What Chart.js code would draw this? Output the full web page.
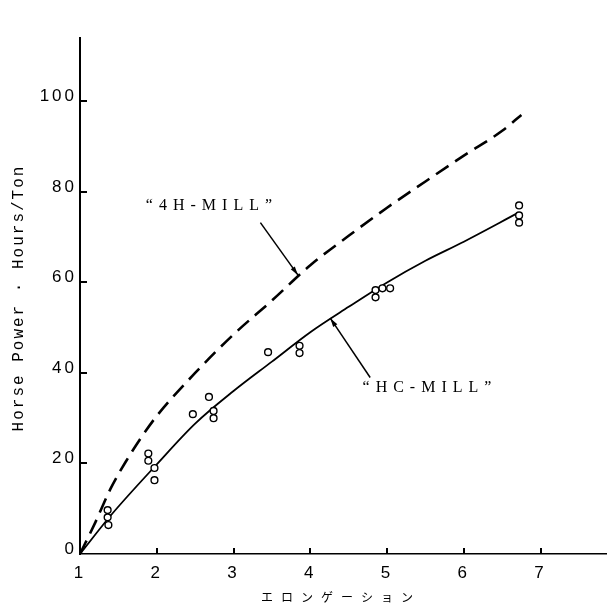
<!DOCTYPE html>
<html>
<head>
<meta charset="utf-8">
<script src="https://cdn.jsdelivr.net/npm/chart.js@4/dist/chart.umd.min.js"></script>
<style>
  html, body { margin: 0; padding: 0; background: #fff; }
  #wrap { width: 612px; height: 614px; position: relative; }
</style>
</head>
<body>
<div id="wrap"><canvas id="c"></canvas></div>
<script>
// Power consumption against elongation for two mill types.
const hcCurveX = [1, 1.4, 2, 2.5, 3, 3.5, 4, 4.5, 5, 5.5, 6, 6.7];
const hcCurveY = [0, 8.5, 19.8, 28.8, 36, 42.5, 49, 54.6, 60, 64.8, 69, 75.3];

const fourHiCurveX = [1, 1.2, 1.4, 1.6, 1.8, 2, 2.5, 3, 3.5, 4, 4.5, 5, 5.5, 6, 6.5, 6.75];
const fourHiCurveY = [0, 7, 14.5, 20.5, 25.8, 30.5, 40, 48.5, 56, 63.8, 70.3, 76.5, 82.3, 88, 93.5, 97];

// Measured HC mill points
const measuredX = [1.36, 1.36, 1.37, 1.89, 1.89, 1.97, 1.97, 2.47, 2.68, 2.74, 2.74, 3.45, 3.86, 3.86, 4.85, 4.85, 4.94, 5.04, 6.72, 6.72, 6.72];
const measuredY = [9.7, 8.1, 6.4, 22.2, 20.6, 19.0, 16.3, 30.9, 34.7, 31.6, 30.0, 44.6, 46.0, 44.4, 58.3, 56.7, 58.7, 58.7, 77.0, 74.8, 73.2];

const xTicks = [1, 2, 3, 4, 5, 6, 7];
const yTicks = [0, 20, 40, 60, 80, 100];

const yTitle = 'Horse Power · Hours/Ton';
const xTitle = 'エロンゲーション';
const fourHiLabel = '“4H-MILL”';
const hcLabel = '“HC-MILL”';

const toPoints = (xs, ys) => xs.map((v, i) => ({ x: v, y: ys[i] }));

// Callout text and leader arrows, placed in data units
const callouts = [
  { text: fourHiLabel, at: [2.68, 77.0], from: [3.35, 73.2], to: [3.84, 61.6] },
  { text: hcLabel, at: [5.52, 36.8], from: [4.78, 39.0], to: [4.26, 52.1] }
];

const decorations = {
  id: 'decorations',
  beforeDraw(chart) {
    chart.ctx.letterSpacing = '3px';
  },
  afterDraw(chart) {
    const { ctx, chartArea: area, scales: { x, y } } = chart;
    ctx.letterSpacing = '0px';
    ctx.save();
    ctx.strokeStyle = '#000';
    ctx.fillStyle = '#000';

    // inward tick marks
    ctx.lineWidth = 2;
    xTicks.forEach(v => {
      if (v === x.min) return;
      const px = Math.round(x.getPixelForValue(v));
      ctx.beginPath();
      ctx.moveTo(px, area.bottom);
      ctx.lineTo(px, area.bottom - 6);
      ctx.stroke();
    });
    yTicks.forEach(v => {
      if (v === 0) return;
      const py = Math.round(y.getPixelForValue(v));
      ctx.beginPath();
      ctx.moveTo(area.left, py);
      ctx.lineTo(area.left + 7, py);
      ctx.stroke();
    });

    // axis titles
    ctx.save();
    ctx.translate(19, 298);
    ctx.rotate(-Math.PI / 2);
    ctx.font = '16px "Liberation Mono"';
    ctx.letterSpacing = '2px';
    ctx.textAlign = 'center';
    ctx.textBaseline = 'middle';
    ctx.fillText(yTitle, 0, 0);
    ctx.restore();

    ctx.save();
    ctx.font = '12px "Noto Sans CJK JP"';
    ctx.letterSpacing = '8px';
    ctx.textAlign = 'center';
    ctx.textBaseline = 'middle';
    ctx.fillText(xTitle, 341, 597);
    ctx.restore();

    // callouts
    callouts.forEach(c => {
      const lx = x.getPixelForValue(c.at[0]), ly = y.getPixelForValue(c.at[1]);
      ctx.save();
      ctx.font = '16px "Liberation Serif"';
      ctx.letterSpacing = '6px';
      ctx.textAlign = 'center';
      ctx.textBaseline = 'middle';
      ctx.fillText(c.text, lx + 3, ly);
      ctx.restore();

      const x0 = x.getPixelForValue(c.from[0]), y0 = y.getPixelForValue(c.from[1]);
      const x1 = x.getPixelForValue(c.to[0]), y1 = y.getPixelForValue(c.to[1]);
      ctx.lineWidth = 1.5;
      ctx.beginPath();
      ctx.moveTo(x0, y0);
      ctx.lineTo(x1, y1);
      ctx.stroke();
      const ang = Math.atan2(y1 - y0, x1 - x0);
      const len = 9, half = 2.5;
      ctx.beginPath();
      ctx.moveTo(x1, y1);
      ctx.lineTo(x1 - len * Math.cos(ang) + half * Math.sin(ang), y1 - len * Math.sin(ang) - half * Math.cos(ang));
      ctx.lineTo(x1 - len * Math.cos(ang) - half * Math.sin(ang), y1 - len * Math.sin(ang) + half * Math.cos(ang));
      ctx.closePath();
      ctx.fill();
    });
    ctx.restore();
  }
};

new Chart(document.getElementById('c'), {
  type: 'scatter',
  data: {
    datasets: [
      {
        label: '4H-MILL',
        data: toPoints(fourHiCurveX, fourHiCurveY),
        showLine: true,
        borderColor: '#000',
        borderWidth: 2.6,
        borderDash: [15, 8],
        pointRadius: 0,
        cubicInterpolationMode: 'monotone',
        order: 3
      },
      {
        label: 'HC-MILL',
        data: toPoints(hcCurveX, hcCurveY),
        showLine: true,
        borderColor: '#000',
        borderWidth: 1.8,
        pointRadius: 0,
        cubicInterpolationMode: 'monotone',
        order: 2
      },
      {
        label: 'HC-MILL measured',
        data: toPoints(measuredX, measuredY),
        showLine: false,
        pointStyle: 'circle',
        pointRadius: 3.4,
        pointBorderWidth: 1.4,
        pointBorderColor: '#000',
        pointBackgroundColor: '#fff',
        order: 1
      }
    ]
  },
  options: {
    responsive: true,
    maintainAspectRatio: false,
    animation: false,
    events: [],
    layout: { padding: { top: 38, right: 0, bottom: 0, left: 0 } },
    plugins: {
      legend: { display: false },
      tooltip: { enabled: false },
      title: { display: false }
    },
    scales: {
      x: {
        type: 'linear',
        min: 1,
        max: 7.86,
        afterBuildTicks(scale) { scale.ticks = xTicks.map(v => ({ value: v })); },
        afterFit(scale) { scale.height = 60; },
        grid: { drawOnChartArea: false, drawTicks: false },
        border: { display: true, color: '#000', width: 1.6 },
        ticks: {
          color: '#000',
          padding: 9,
          maxRotation: 0,
          font: { family: '"Liberation Sans"', size: 17 }
        }
      },
      y: {
        type: 'linear',
        min: 0,
        max: 114,
        afterBuildTicks(scale) { scale.ticks = yTicks.map(v => ({ value: v })); },
        afterFit(scale) { scale.width = 80; },
        grid: { drawOnChartArea: false, drawTicks: false },
        border: { display: true, color: '#000', width: 2 },
        ticks: {
          color: '#000',
          padding: 3,
          labelOffset: -5,
          font: { family: '"Liberation Sans"', size: 17 }
        }
      }
    }
  },
  plugins: [decorations]
});
</script>
</body>
</html>
